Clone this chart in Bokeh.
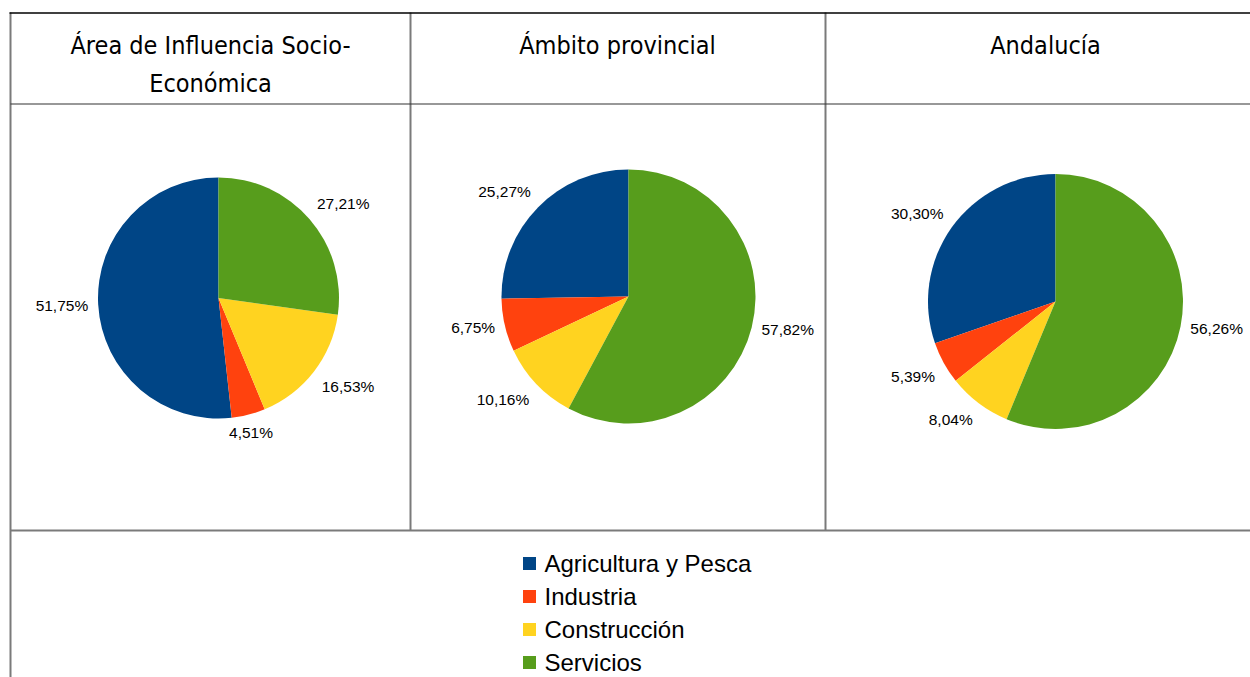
import numpy as np
from bokeh.plotting import figure
from bokeh.models import Range1d
from bokeh.core.properties import value
from bokeh.embed import file_html
from bokeh.resources import INLINE

# ---------------- data ----------------
sectors = ["Agricultura y Pesca", "Industria", "Construcción", "Servicios"]
colors = ["#004586", "#ff420e", "#ffd320", "#579d1c"]
header_lines = [["Área de Influencia Socio-", "Económica"],
                ["Ámbito provincial"],
                ["Andalucía"]]
area_influencia = [51.75, 4.51, 16.53, 27.21]
ambito_provincial = [25.27, 6.75, 10.16, 57.82]
andalucia = [30.30, 5.39, 8.04, 56.26]
series = [area_influencia, ambito_provincial, andalucia]

# ---------------- layout ----------------
W, H = 1250, 677


def X(px):
    return px


def Y(py):
    return H - py


p = figure(width=W, height=H, x_range=Range1d(0, W), y_range=Range1d(0, H),
           output_backend="svg", toolbar_location=None, min_border=0,
           x_axis_location=None, y_axis_location=None)
p.grid.visible = False
p.outline_line_color = None
p.background_fill_color = "white"
p.border_fill_color = "white"

# table rules
p.segment(x0=[X(10), X(410), X(825)], y0=[Y(12), Y(12), Y(12)],
          x1=[X(10), X(410), X(825)], y1=[Y(700), Y(530), Y(530)],
          line_color="#7a7a7a", line_width=2)
p.segment(x0=[X(10)], y0=[Y(103.5)], x1=[X(1250)], y1=[Y(103.5)], line_color="#333333", line_width=1.2)
p.segment(x0=[X(10)], y0=[Y(530)], x1=[X(1250)], y1=[Y(530)], line_color="#7a7a7a", line_width=2)
p.segment(x0=[X(9)], y0=[Y(12.5)], x1=[X(1250)], y1=[Y(12.5)], line_color="#000000", line_width=1.3)

# headers
head_cx = [210, 617, 1045]
hx, hy, ht = [], [], []
for cx, lines in zip(head_cx, header_lines):
    for j, t in enumerate(lines):
        hx.append(X(cx))
        hy.append(Y(45 + 38 * j))
        ht.append(t)
p.text(x=hx, y=hy, text=ht, text_align="center", text_baseline="middle",
       text_font=value("DejaVu Sans Condensed"), text_font_size="25px", text_color="#000000")

# pies
centers = [(218, 297.5, 120.5), (628, 296, 127), (1055, 301, 127.5)]
for vals, (cx, cy, r) in zip(series, centers):
    v = np.array(vals, dtype=float)
    frac = v / v.sum()
    cum = np.cumsum(frac)
    starts = np.pi / 2 + 2 * np.pi * (cum - frac)
    ends = np.pi / 2 + 2 * np.pi * cum
    p.wedge(x=X(cx), y=Y(cy), radius=r, start_angle=list(starts), end_angle=list(ends),
            fill_color=colors, line_color=None)
    mids = (starts + ends) / 2
    for val, m in zip(vals, mids):
        c, s = np.cos(m), np.sin(m)
        ax = X(cx) + (r + 10) * c
        ay = Y(cy) + (r + 10) * s
        align = "left" if c > 0.3 else ("right" if c < -0.3 else "center")
        base = "bottom" if s > 0.3 else ("top" if s < -0.3 else "middle")
        p.text(x=[ax], y=[ay], text=[f"{val:.2f}%".replace(".", ",")],
               text_align=align, text_baseline=base,
               text_font=value("Liberation Sans"), text_font_size="15.5px", text_color="#000000")

# legend
ly = [Y(563 + 33 * i) for i in range(len(sectors))]
p.rect(x=[X(529)] * len(sectors), y=ly, width=13, height=13, fill_color=colors, line_color=None)
p.text(x=[X(544)] * len(sectors), y=ly, text=sectors, text_align="left", text_baseline="middle",
       text_font=value("Liberation Sans"), text_font_size="24px", text_color="#000000")

open("out.html", "w").write(file_html(p, INLINE))
